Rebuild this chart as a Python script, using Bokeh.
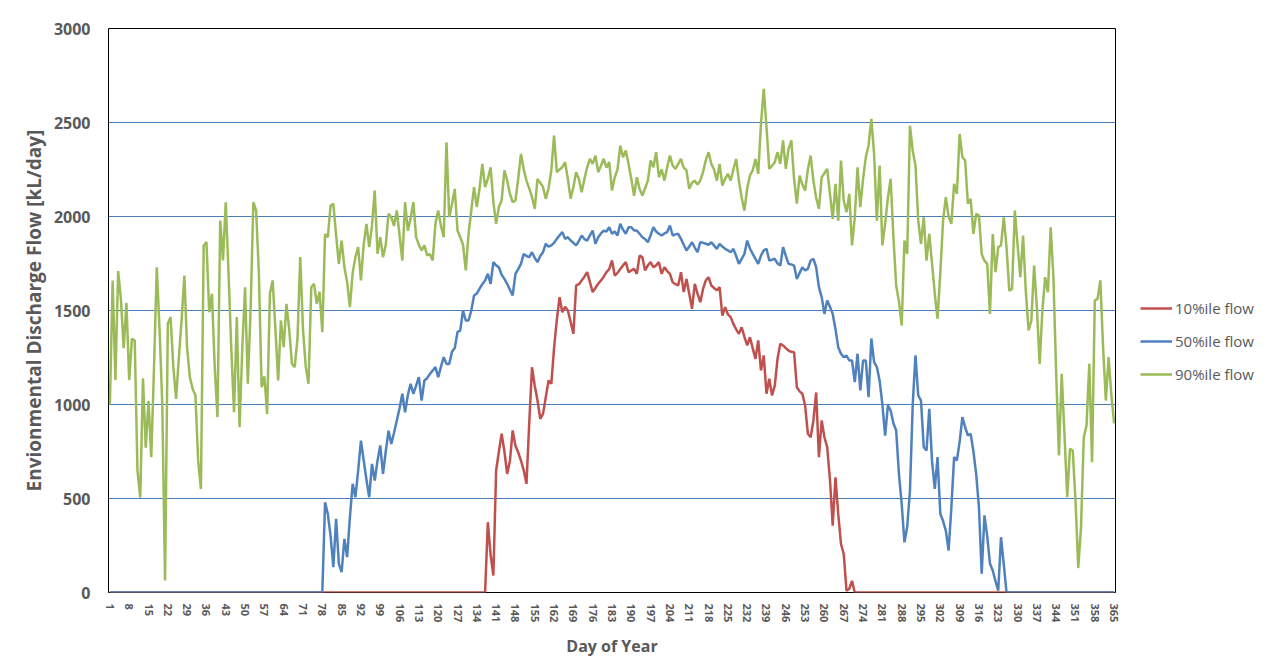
from bokeh.plotting import figure
from bokeh.models import Range1d, FixedTicker, Legend, LegendItem
from bokeh.embed import file_html
from bokeh.resources import INLINE

days = list(range(1, 366))
x_tick_days = list(range(1, 366, 7))
y_ticks = [0, 500, 1000, 1500, 2000, 2500, 3000]
series_names = ["10%ile flow", "50%ile flow", "90%ile flow"]

flow_90 = [
    1000, 1660, 1130, 1710, 1560, 1300, 1540, 1130, 1350, 1340,
    650, 505, 1140, 770, 1020, 720, 1200, 1730, 1400, 1000,
    64, 1430, 1465, 1200, 1030, 1250, 1450, 1686, 1300, 1145,
    1083, 1050, 700, 551, 1846, 1864, 1491, 1589, 1200, 933,
    1978, 1766, 2076, 1700, 1300, 959, 1465, 879, 1300, 1624,
    1110, 1500, 2076, 2032, 1700, 1092, 1150, 950, 1589, 1660,
    1400, 1128, 1447, 1305, 1535, 1400, 1216, 1199, 1350, 1784,
    1400, 1200, 1110, 1624, 1642, 1535, 1600, 1385, 1907, 1890,
    2058, 2067, 1900, 1748, 1872, 1731, 1650, 1518, 1700, 1784,
    1837, 1660, 1850, 1961, 1837, 1950, 2138, 1802, 1890, 1784,
    1850, 2014, 1996, 1950, 2032, 1900, 1766, 2076, 1925, 1990,
    2076, 1890, 1850, 1819, 1846, 1793, 1800, 1766, 1961, 2032,
    1950, 1890, 2395, 1996, 2067, 2147, 1926, 1890, 1850, 1713,
    1908, 2032, 2156, 2050, 2150, 2280, 2156, 2200, 2262, 2076,
    1961, 2050, 2085, 2245, 2191, 2120, 2076, 2085, 2200, 2333,
    2250, 2191, 2150, 2103, 2041, 2200, 2180, 2156, 2094, 2150,
    2245, 2431, 2236, 2250, 2262, 2289, 2200, 2094, 2156, 2236,
    2200, 2129, 2200, 2262, 2307, 2280, 2324, 2236, 2270, 2307,
    2260, 2289, 2138, 2209, 2250, 2377, 2315, 2351, 2280, 2200,
    2110, 2209, 2147, 2112, 2150, 2191, 2298, 2262, 2342, 2209,
    2250, 2191, 2262, 2324, 2271, 2253, 2280, 2306, 2260, 2245,
    2147, 2180, 2191, 2170, 2191, 2236, 2300, 2342, 2280, 2250,
    2191, 2280, 2165, 2200, 2227, 2191, 2250, 2306, 2191, 2100,
    2032, 2150, 2218, 2245, 2306, 2227, 2493, 2679, 2475, 2253,
    2270, 2289, 2342, 2280, 2405, 2253, 2360, 2405, 2200, 2068,
    2218, 2170, 2138, 2250, 2324, 2191, 2100, 2041, 2209, 2230,
    2253, 2120, 1987, 2174, 1978, 2298, 2085, 2023, 2120, 1846,
    1996, 2262, 2050, 2200, 2316, 2378, 2519, 2333, 1978, 2271,
    1846, 1961, 2100, 2200, 1890, 1633, 1550, 1420, 1872, 1801,
    2483, 2350, 2271, 1978, 1854, 1996, 1765, 1908, 1750, 1589,
    1456, 1700, 1978, 2103, 2000, 1961, 2174, 2120, 2439, 2316,
    2298, 2068, 2094, 1908, 2014, 2005, 1801, 1765, 1748, 1482,
    1907, 1704, 1837, 1846, 1996, 1837, 1606, 1615, 2032, 1850,
    1677, 1899, 1600, 1394, 1447, 1739, 1517, 1216, 1500, 1677,
    1597, 1943, 1677, 1163, 729, 1163, 844, 507, 764, 755,
    489, 130, 348, 826, 889, 1216, 693, 1553, 1562, 1660,
    1305, 1021, 1252, 1050, 900,
]

flow_50 = [0] * 78 + [
    480, 418, 300, 135, 392, 152, 108, 285, 188, 400, 578, 507,
    650, 808, 702, 600, 507, 684, 596, 700, 782, 631,
    750, 861, 790, 850, 915, 980, 1057, 959, 1050, 1110,
    1057, 1100, 1145, 1021, 1128, 1140, 1163, 1180, 1199, 1145,
    1200, 1252, 1216, 1216, 1280, 1300, 1385, 1394, 1500, 1447,
    1447, 1500, 1580, 1590, 1616, 1640, 1660, 1695, 1642, 1757,
    1740, 1730, 1690, 1668, 1642, 1610, 1580, 1695, 1720, 1748,
    1801, 1790, 1784, 1810, 1780, 1757, 1790, 1810, 1855, 1840,
    1846, 1860, 1881, 1900, 1917, 1881, 1890, 1872, 1860, 1846,
    1870, 1899, 1880, 1872, 1900, 1925, 1855, 1890, 1910, 1925,
    1920, 1943, 1908, 1920, 1899, 1961, 1930, 1908, 1943, 1943,
    1926, 1925, 1908, 1890, 1880, 1863, 1900, 1943, 1920, 1908,
    1899, 1910, 1917, 1952, 1899, 1905, 1908, 1881, 1850, 1819,
    1840, 1863, 1835, 1810, 1863, 1860, 1855, 1850, 1863, 1845,
    1828, 1855, 1840, 1828, 1820, 1810, 1828, 1790, 1748, 1775,
    1801, 1872, 1830, 1801, 1775, 1748, 1792, 1820, 1828, 1766,
    1770, 1775, 1750, 1739, 1837, 1790, 1748, 1745, 1739, 1668,
    1700, 1730, 1713, 1721, 1766, 1775, 1730, 1624, 1571, 1482,
    1553, 1520, 1482, 1400, 1305, 1270, 1252, 1260, 1234, 1234,
    1119, 1270, 1075, 1234, 1234, 1039, 1351, 1225, 1199, 1128,
    1000, 835, 995, 968, 900, 862, 631, 471, 267, 350,
    542, 1000, 1261, 1048, 1021, 773, 755, 977, 700, 551,
    720, 418, 380, 329, 223, 450, 720, 702, 800, 933,
    879, 835, 844, 750, 631, 454, 100, 410, 300, 154,
    117, 60, 10, 294, 150, 0,
] + [0] * 39

flow_10 = [0] * 137 + [
    374, 200, 90,
    649, 750, 845, 750, 631, 700, 862, 780, 746, 702,
    650, 578, 900, 1198, 1100, 1021, 924, 950, 1039, 1128,
    1110, 1300, 1450, 1571, 1491, 1520, 1500, 1440, 1376, 1633,
    1640, 1660, 1680, 1704, 1651, 1598, 1620, 1642, 1660, 1680,
    1704, 1720, 1766, 1686, 1700, 1721, 1740, 1757, 1704, 1713,
    1721, 1695, 1792, 1784, 1713, 1740, 1757, 1730, 1740, 1757,
    1695, 1730, 1710, 1695, 1650, 1640, 1633, 1704, 1598, 1668,
    1589, 1509, 1642, 1590, 1544, 1615, 1660, 1677, 1633, 1620,
    1607, 1624, 1473, 1518, 1480, 1465, 1429, 1400, 1376, 1411,
    1360, 1314, 1358, 1300, 1243, 1341, 1181, 1261, 1057, 1137,
    1048, 1100, 1243, 1323, 1314, 1300, 1287, 1280, 1278, 1092,
    1070, 1057, 995, 844, 826, 915, 1064, 720, 915, 826,
    773, 600, 356, 613, 418, 258, 205, 9, 20, 62,
] + [0] * 95

assert len(flow_90) == 365 and len(flow_50) == 365 and len(flow_10) == 365

colors = ["#C0504D", "#4F81BD", "#9BBB59"]
text_gray = "#595959"
font = "Open Sans"

p = figure(frame_width=1007, frame_height=564, output_backend="svg",
           toolbar_location=None,
           x_range=Range1d(0.5, 365.5), y_range=Range1d(0, 3000),
           min_border_left=108, min_border_right=10, min_border_top=28,
           min_border_bottom=63)

p.outline_line_color = "black"
p.outline_line_width = 1
p.background_fill_color = "white"
p.border_fill_color = "white"

p.xgrid.grid_line_color = None
p.ygrid.grid_line_color = "#4a7ebb"
p.ygrid.grid_line_width = 1

p.xaxis.ticker = FixedTicker(ticks=x_tick_days)
p.yaxis.ticker = FixedTicker(ticks=y_ticks)
p.xaxis.major_label_orientation = "vertical"

for ax in (p.xaxis, p.yaxis):
    ax.axis_line_color = None
    ax.major_tick_line_color = None
    ax.minor_tick_line_color = None
    ax.major_label_text_font = font
    ax.major_label_text_font_style = "bold"
    ax.major_label_text_color = text_gray
    ax.axis_label_text_font = font
    ax.axis_label_text_font_style = "bold"
    ax.axis_label_text_color = text_gray

p.xaxis.major_label_text_font_size = "11px"
p.yaxis.major_label_text_font_size = "16px"
p.xaxis.major_label_standoff = 5
p.yaxis.major_label_standoff = 12
p.xaxis.axis_label = "Day of Year"
p.yaxis.axis_label = "Envionmental Discharge Flow [kL/day]"
p.xaxis.axis_label_text_font_size = "16px"
p.yaxis.axis_label_text_font_size = "19px"
p.xaxis.axis_label_standoff = 10
p.yaxis.axis_label_standoff = 4

r10 = p.line(days, flow_10, line_color=colors[0], line_width=2.5)
r50 = p.line(days, flow_50, line_color=colors[1], line_width=2.5)
r90 = p.line(days, flow_90, line_color=colors[2], line_width=2.5)

legend = Legend(items=[LegendItem(label=series_names[0], renderers=[r10]),
                       LegendItem(label=series_names[1], renderers=[r50]),
                       LegendItem(label=series_names[2], renderers=[r90])],
                location=(25, 208), orientation="vertical",
                border_line_color=None, background_fill_alpha=0,
                label_text_font=font, label_text_font_size="15px",
                label_text_color=text_gray, glyph_width=32, glyph_height=20,
                spacing=13, padding=0, margin=0, label_standoff=3)
p.add_layout(legend, "right")

open("out.html", "w").write(file_html(p, INLINE))
